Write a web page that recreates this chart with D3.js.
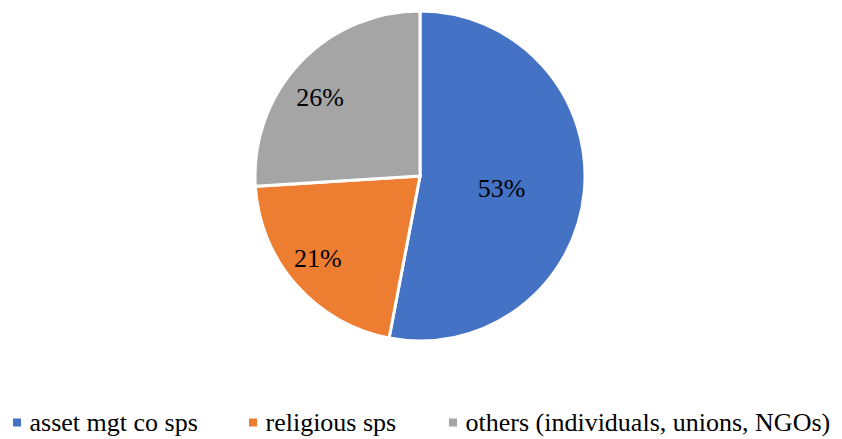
<!DOCTYPE html>
<html>
<head>
<meta charset="utf-8">
<script src="https://cdn.jsdelivr.net/npm/d3@7"></script>
</head>
<body style="margin:0">
<div id="chart"></div>
<script>
// chart data
const categories = ["asset mgt co sps", "religious sps", "others (individuals, unions, NGOs)"];
const shares = [53, 21, 26];
const colors = ["#4472C4", "#ED7D31", "#A5A5A5"];

const width = 842, height = 439;
const cx = 420, cy = 176, radius = 165;
const fontName = "Liberation Serif";

// Excel "best fit" label placement: radius fraction + angle nudge (deg)
const labelFrac = [0.5, 0.794, 0.772];
const labelNudge = [3, 2.6, -4.9];

const svg = d3.select("#chart")
    .append("svg")
    .attr("width", width)
    .attr("height", height)
    .style("font-family", fontName);

const g = svg.append("g")
    .attr("transform", `translate(${cx},${cy})`);

const pie = d3.pie().sort(null).value(d => d);
const arc = d3.arc().innerRadius(0).outerRadius(radius);

const arcs = pie(shares);

g.selectAll("path")
    .data(arcs)
    .join("path")
    .attr("d", arc)
    .attr("fill", (d, i) => colors[i])
    .attr("stroke", "#fff")
    .attr("stroke-width", 3);

g.selectAll(".pct")
    .data(arcs)
    .join("text")
    .attr("class", "pct")
    .attr("transform", (d, i) => {
        const a = (d.startAngle + d.endAngle) / 2 + labelNudge[i] * Math.PI / 180;
        return `translate(${d3.pointRadial(a, radius * labelFrac[i])})`;
    })
    .attr("text-anchor", "middle")
    .attr("dy", "0.35em")
    .style("font-size", "26px")
    .attr("fill", "#000")
    .text(d => d.data + "%");

// legend
const legendX = [13, 249, 449];
const legend = svg.append("g")
    .attr("transform", "translate(0,422.5)");

const item = legend.selectAll("g")
    .data(categories)
    .join("g")
    .attr("transform", (d, i) => `translate(${legendX[i]},0)`);

item.append("rect")
    .attr("x", 0)
    .attr("y", -4)
    .attr("width", 8)
    .attr("height", 8)
    .attr("fill", (d, i) => colors[i]);

item.append("text")
    .attr("x", 16.5)
    .attr("dy", "0.33em")
    .style("font-size", "26px")
    .attr("fill", "#000")
    .text(d => d);
</script>
</body>
</html>
